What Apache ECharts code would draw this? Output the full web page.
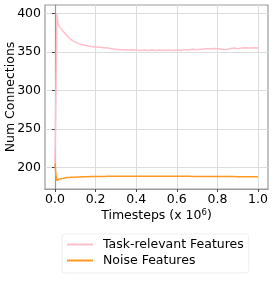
<!DOCTYPE html>
<html><head><meta charset="utf-8">
<script src="https://cdn.jsdelivr.net/npm/echarts@6/dist/echarts.min.js"></script>
<style>html,body{margin:0;padding:0;background:#fff}#c{width:274px;height:305px}</style>
</head><body><div id="c"></div>
<script>
const timesteps = [0,0.005,0.01,0.015,0.02,0.03,0.04,0.05,0.06,0.07,0.08,0.09,0.10,0.12,0.14,0.16,0.18,0.20,0.22,0.24,0.26,0.28,0.30,0.32,0.34,0.36,0.38,0.40,0.42,0.44,0.46,0.48,0.50,0.52,0.54,0.56,0.58,0.60,0.62,0.64,0.66,0.68,0.70,0.72,0.74,0.76,0.78,0.80,0.82,0.84,0.86,0.88,0.90,0.92,0.94,0.96,0.98,1.00];
const taskRelevant = [205,300,400,386,384,380,377,374,371,368,366,364,363,360.5,359,358,357,356.5,356,355.5,355,354,353.5,353,353,352.5,353,352.5,352,352.5,352,352.5,352,352.5,352,352.5,352,352.5,352,353,353,353.5,353,353.5,354,354,354.5,354,353.5,353,354,355,354,355,355.5,355,355.5,355];
const taskBand = [3,6,5,5,4.5,4.5,4.5,4,4,4,3.5,3.5,3.5,3.5,3,3,3,3,3,3,3,3,3,3,3,3,3,3,3,3,3,3,3,3,3,3,3,3,3,3,3,3,3,3,3,3,3,3,3,3,3,3,3,3,3,3,3,3];
const noise = [205,190,183,184,185,185.5,186,186.5,187,187,187.3,187.5,187.6,187.8,188,188.2,188.3,188.4,188.5,188.5,188.6,188.6,188.7,188.7,188.7,188.8,188.8,188.8,188.8,188.8,188.8,188.8,188.7,188.7,188.7,188.7,188.7,188.6,188.6,188.6,188.6,188.5,188.5,188.5,188.5,188.4,188.4,188.4,188.3,188.3,188.3,188.3,188.2,188.2,188.2,188.2,188.2,188.2];
const xTicks = [0,0.2,0.4,0.6,0.8,1.0];
const yTicks = [200,250,300,350,400];
const seriesNames = ['Task-relevant Features','Noise Features'];

const pink = '#FFC0CB', orange = '#FF9922';
const pair = (arr) => timesteps.map((t,i)=>[t,arr[i]]);
const lower = timesteps.map((t,i)=>[t, taskRelevant[i]-taskBand[i]]);
const width = timesteps.map((t,i)=>[t, 2*taskBand[i]]);
const font = 'DejaVu Sans';
const fs = 12.5;
const chart = echarts.init(document.getElementById('c'), null, {renderer:'canvas'});
chart.setOption({
  animation:false,
  textStyle:{fontFamily:font},
  grid:{left:45,right:6,top:5,bottom:116,outerBoundsMode:'none',containLabel:false,show:true,borderColor:'#999',borderWidth:1.2,backgroundColor:'transparent'},
  xAxis:{type:'value',min:-0.049,max:1.049,
    name:'Timesteps (x 10{sup|6})',nameLocation:'middle',nameGap:19,nameMoveOverlap:false,
    nameTextStyle:{fontFamily:font,fontSize:fs,color:'#000',rich:{sup:{fontSize:8.5,verticalAlign:'top',padding:[0,0,7,0],fontFamily:font,color:'#000'}}},
    axisLine:{show:true,lineStyle:{color:'#999',width:1.2}},
    axisTick:{show:true,length:3,lineStyle:{color:'#444'},customValues:xTicks},
    axisLabel:{fontFamily:font,fontSize:fs,color:'#000',margin:4,customValues:xTicks,formatter:v=>v.toFixed(1)},
    splitLine:{show:true,lineStyle:{color:'#ddd',width:1}}},
  yAxis:{type:'value',min:172.2,max:410.9,
    name:'Num Connections',nameLocation:'middle',nameGap:28,nameMoveOverlap:false,
    nameTextStyle:{fontFamily:font,fontSize:fs,color:'#000'},
    axisLine:{show:true,lineStyle:{color:'#999',width:1.2}},
    axisTick:{show:true,length:3,lineStyle:{color:'#444'},customValues:yTicks},
    axisLabel:{fontFamily:font,fontSize:fs,color:'#000',margin:4,customValues:yTicks},
    splitLine:{show:true,lineStyle:{color:'#ddd',width:1}}},
  legend:{orient:'vertical',left:62,top:234,itemWidth:26,itemHeight:2,itemGap:3,
    padding:[4,5,6,5],borderColor:'#eee',borderWidth:1,borderRadius:3,
    icon:'rect',data:seriesNames,
    textStyle:{fontFamily:font,fontSize:fs,color:'#000',padding:[0,0,0,5]}},
  series:[
    {type:'line',data:lower,stack:'band',symbol:'none',lineStyle:{opacity:0},silent:true},
    {type:'line',data:width,stack:'band',symbol:'none',lineStyle:{opacity:0},areaStyle:{color:'rgba(255,192,203,0.45)'},silent:true},
    {name:seriesNames[0],type:'line',data:pair(taskRelevant),symbol:'none',lineStyle:{color:pink,width:1.5},itemStyle:{color:pink}},
    {name:seriesNames[1],type:'line',data:pair(noise),symbol:'none',lineStyle:{color:orange,width:1.5},itemStyle:{color:orange}}
  ]
});
</script></body></html>
